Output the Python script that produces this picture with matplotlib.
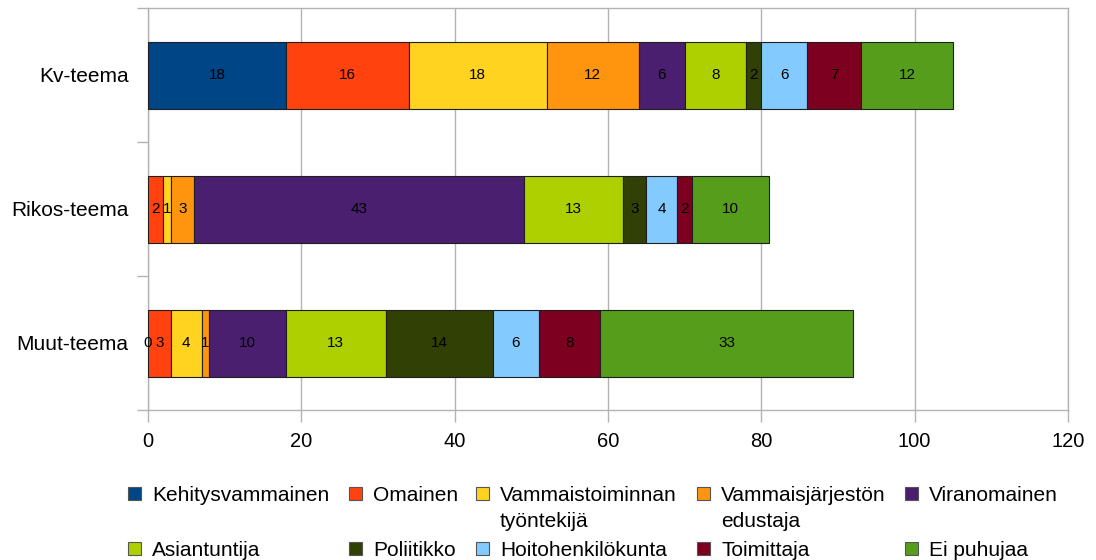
import numpy as np
import matplotlib
matplotlib.use("Agg")
import matplotlib.pyplot as plt
from matplotlib.patches import Rectangle

plt.rcParams['font.family'] = ['Liberation Sans', 'DejaVu Sans']

categories = ["Kv-teema", "Rikos-teema", "Muut-teema"]
series_names = ["Kehitysvammainen", "Omainen", "Vammaistoiminnan\ntyöntekijä",
                "Vammaisjärjestön\nedustaja", "Viranomainen", "Asiantuntija",
                "Poliitikko", "Hoitohenkilökunta", "Toimittaja", "Ei puhujaa"]
colors = ["#004586", "#ff420e", "#ffd320", "#ff950e", "#4b1f6f",
          "#aecf00", "#314004", "#83caff", "#7e0021", "#579d1c"]

kehitysvammainen = [18, np.nan, 0]
omainen = [16, 2, 3]
vammaistoiminnan = [18, 1, 4]
vammaisjarjeston = [12, 3, 1]
viranomainen = [6, 43, 10]
asiantuntija = [8, 13, 13]
poliitikko = [2, 3, 14]
hoitohenkilokunta = [6, 4, 6]
toimittaja = [7, 2, 8]
ei_puhujaa = [12, 10, 33]

series = [kehitysvammainen, omainen, vammaistoiminnan, vammaisjarjeston,
          viranomainen, asiantuntija, poliitikko, hoitohenkilokunta,
          toimittaja, ei_puhujaa]

xticks = [0, 20, 40, 60, 80, 100, 120]

W, H = 1096, 560
fig = plt.figure(figsize=(W / 100, H / 100), dpi=100)
ax = fig.add_axes([148 / W, 1 - 410 / H, (1068 - 148) / W, (410 - 8) / H])

ypos = np.arange(len(categories))[::-1]  # Kv at top
left = np.zeros(len(categories))
for vals, name, col in zip(series, series_names, colors):
    v = np.array(vals, dtype=float)
    w = np.nan_to_num(v)
    ax.barh(ypos, w, left=left, height=0.5, color=col,
            edgecolor="#1e1e1e", linewidth=0.8, zorder=3)
    for yi, li, vi in zip(ypos, left, v):
        if not np.isnan(vi):
            ax.text(li + vi / 2, yi, f"{int(vi)}", ha="center", va="center",
                    fontsize=11, color="black", zorder=4)
    left = left + w

ax.set_xlim(0, 120)
ax.set_ylim(-0.5, 2.5)
ax.set_xticks(xticks)
ax.set_xticklabels([str(t) for t in xticks], fontsize=14.5)
ax.set_yticks(ypos)
ax.set_yticklabels(categories, fontsize=15)
ax.set_yticks([-0.5, 0.5, 1.5, 2.5], minor=True)
ax.tick_params(axis="y", which="major", length=0, pad=14)
ax.tick_params(axis="y", which="minor", length=8, width=1, color="#b3b3b3", direction="out")
ax.tick_params(axis="x", which="major", length=8.6, width=1, color="#b3b3b3",
               direction="out", pad=7)
ax.grid(axis="x", color="#b3b3b3", linewidth=1, zorder=0)
ax.set_axisbelow(True)
for s in ax.spines.values():
    s.set_color("#b3b3b3")
    s.set_linewidth(1)

# legend laid out in 5 columns, 2 rows (pixel layout)
col_x = [128, 349, 476, 697, 905]
row_base = [501, 556]
line_h = 26
for i, (name, col) in enumerate(zip(series_names, colors)):
    r, c = divmod(i, 5)
    x0 = col_x[c]
    yb = row_base[r]
    fig.add_artist(Rectangle((x0 / W, 1 - (yb - 1) / H), 13 / W, 13 / H,
                             transform=fig.transFigure, facecolor=col,
                             edgecolor="#555555", linewidth=0.8))
    for k, line in enumerate(name.split("\n")):
        fig.text((x0 + 24) / W, 1 - (yb + k * line_h) / H, line, fontsize=15,
                 ha="left", va="baseline")

fig.savefig("out.png", dpi=100)
